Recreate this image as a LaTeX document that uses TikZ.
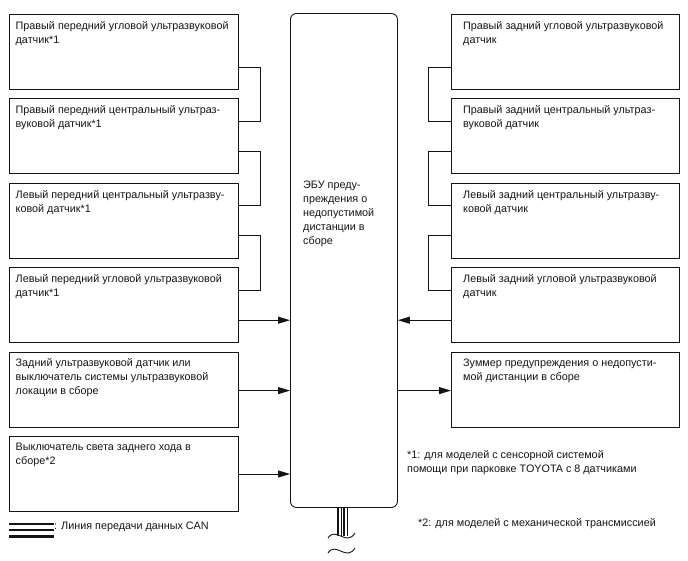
\documentclass[tikz,border=0pt]{standalone}
\usepackage{fontspec}
\setmainfont{Liberation Sans}
\usepackage{tikz}
\usetikzlibrary{arrows.meta,positioning}
\definecolor{linecol}{RGB}{20,20,20}
\newcommand{\fs}{\fontsize{10.8}{14}\selectfont}
\tikzset{
  unit/.style   ={rectangle, draw=linecol, line width=0.9pt, inner sep=0pt,
                  minimum width=229pt, minimum height=75pt},
  ecu/.style    ={unit, rounded corners=6pt, minimum width=107pt, minimum height=494pt},
  txt/.style    ={anchor=north west, align=left, inner sep=0pt, font=\fs, text=linecol},
  ltxt/.style   ={txt, xshift=6.5pt, yshift=-7pt},
  rtxt/.style   ={txt, xshift=12pt, yshift=-7pt},
  link/.style   ={draw=linecol, line width=0.9pt},
  flow/.style   ={link, -{Triangle[length=12pt, width=7pt]}},
  canline/.style={draw=linecol, line width=1.8pt},
}
\begin{document}
\begin{tikzpicture}[x=1pt, y=-1pt, node distance=8.5pt]
    \useasboundingbox (0,0) rectangle (688,560);

    % left column
    \node[unit, anchor=north west, label={[ltxt]north west:{Правый передний угловой ультразвуковой\\датчик*1}}] (l1) at (9,14) {};
    \node[unit, below=of l1, label={[ltxt]north west:{Правый передний центральный ультраз-\\вуковой датчик*1}}] (l2) {};
    \node[unit, below=of l2, label={[ltxt]north west:{Левый передний центральный ультразву-\\ковой датчик*1}}] (l3) {};
    \node[unit, below=of l3, label={[ltxt]north west:{Левый передний угловой ультразвуковой\\датчик*1}}] (l4) {};
    \node[unit, below=of l4, label={[ltxt]north west:{Задний ультразвуковой датчик или\\выключатель системы ультразвуковой\\локации в сборе}}] (l5) {};
    \node[unit, below=of l5, label={[ltxt]north west:{Выключатель света заднего хода в\\сборе*2}}] (l6) {};

    % ecu
    \node[ecu, anchor=north west, label={[txt, xshift=13pt, yshift=-168pt]north west:{ЭБУ преду-\\преждения о\\недопустимой\\дистанции в\\сборе}}] (ebu) at (290,13) {};

    % right column
    \node[unit, anchor=north west, minimum width=228pt, label={[rtxt]north west:{Правый задний угловой ультразвуковой\\датчик}}] (r1) at (451,14) {};
    \node[unit, below=of r1, minimum width=228pt, label={[rtxt]north west:{Правый задний центральный ультраз-\\вуковой датчик}}] (r2) {};
    \node[unit, below=of r2, minimum width=228pt, label={[rtxt]north west:{Левый задний центральный ультразву-\\ковой датчик}}] (r3) {};
    \node[unit, below=of r3, minimum width=228pt, label={[rtxt]north west:{Левый задний угловой ультразвуковой\\датчик}}] (r4) {};
    \node[unit, below=of r4, minimum width=228pt, label={[rtxt]north west:{Зуммер предупреждения о недопусти-\\мой дистанции в сборе}}] (r5) {};

    \foreach \a/\b in {l1/l2,l2/l3,l3/l4}
        \draw[link] ([yshift=-53pt]\a.north east) -- ++(22pt,0pt) |- ([yshift=-23pt]\b.north east);
    \foreach \a/\b in {r1/r2,r2/r3,r3/r4}
        \draw[link] ([yshift=-53pt]\a.north west) -- ++(-23pt,0pt) |- ([yshift=-23pt]\b.north west);

    \draw[flow] ([yshift=-53pt]l4.north east) coordinate (p4) -- (p4 -| ebu.west);
    \draw[flow] ([yshift=-39pt]l5.north east) coordinate (p5) -- (p5 -| ebu.west);
    \draw[flow] ([yshift=-38pt]l6.north east) coordinate (p6) -- (p6 -| ebu.west);
    \draw[flow] ([yshift=-53pt]r4.north west) coordinate (q4) -- (q4 -| ebu.east);
    \draw[flow] ([yshift=-39pt]r5.north west) coordinate (q5) (q5 -| ebu.east) -- (q5);

    % CAN bundle
    \foreach \dx/\w in {-6/1.6, -3/0.8, 0/1.6, 3.5/0.8}
        \draw[draw=linecol, line width=\w pt] ([xshift=\dx pt]ebu.south) -- ++(0pt,-28pt);
    \draw[link] (328,538) .. controls (336,526) and (346,547) .. (355,533);
    \draw[link] (328,553) .. controls (336,541) and (346,562) .. (355,548);

    % notes
    \node[txt] (n1) at (407,450) {*1: для моделей с сенсорной системой\\помощи при парковке TOYOTA с 8 датчиками};
    \node[txt] (n2) at (418,518) {*2: для моделей с механической трансмиссией};

    \draw[canline] (9,524) -- (54,524);
    \draw[canline] (9,530) -- (54,530);
    \draw[canline, line width=2.2pt] (9,536.5) -- (54,536.5);
    \node[txt, anchor=west] (can) at (54,527) {: Линия передачи данных CAN};
\end{tikzpicture}
\end{document}
